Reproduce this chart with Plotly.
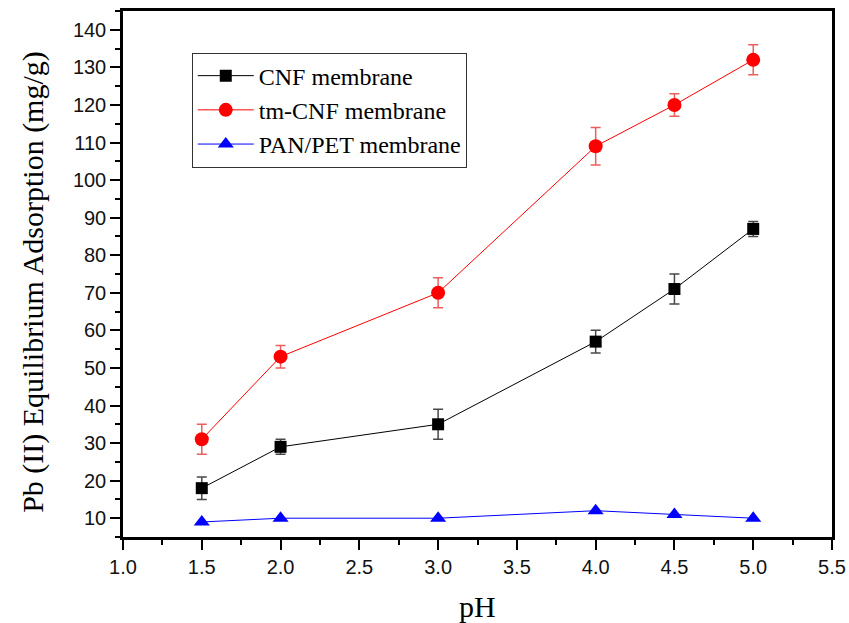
import plotly.graph_objects as go

# pH values of the adsorption runs
ph = [1.5, 2.0, 3.0, 4.0, 4.5, 5.0]

# Equilibrium Pb(II) uptake (mg/g) and standard deviations
cnf = [18, 29, 35, 57, 71, 87]
cnf_err = [3, 2, 4, 3, 4, 2]

tm_cnf = [31, 53, 70, 109, 120, 132]
tm_cnf_err = [4, 3, 4, 5, 3, 4]

pan_pet = [9, 10, 10, 12, 11, 10]

x_ticks = [1.0, 1.5, 2.0, 2.5, 3.0, 3.5, 4.0, 4.5, 5.0, 5.5]
y_ticks = [10, 20, 30, 40, 50, 60, 70, 80, 90, 100, 110, 120, 130, 140]

serif = "Liberation Serif, Times New Roman, serif"
sans = "Liberation Sans, Arial, sans-serif"

fig = go.Figure()

fig.add_trace(go.Scatter(
    x=ph, y=cnf, name="CNF membrane", mode="lines+markers",
    line=dict(color="black", width=1),
    marker=dict(symbol="square", size=12, color="black"),
    error_y=dict(type="data", array=cnf_err, visible=True,
                 color="rgba(40,40,40,0.85)", thickness=1.5, width=5),
))
fig.add_trace(go.Scatter(
    x=ph, y=tm_cnf, name="tm-CNF membrane", mode="lines+markers",
    line=dict(color="red", width=1),
    marker=dict(symbol="circle", size=14, color="red"),
    error_y=dict(type="data", array=tm_cnf_err, visible=True,
                 color="rgba(230,40,40,0.75)", thickness=1.5, width=5),
))
fig.add_trace(go.Scatter(
    x=ph, y=pan_pet, name="PAN/PET membrane", mode="lines+markers",
    line=dict(color="blue", width=1),
    marker=dict(symbol="triangle-up", size=14, color="blue"),
))

axis_common = dict(
    showline=True, linecolor="black", linewidth=2.5, mirror=True,
    ticks="outside", ticklen=10, tickwidth=2, tickcolor="black",
    showgrid=False, zeroline=False, automargin=False,
    tickfont=dict(family=sans, size=20, color="#111"),
)

fig.update_xaxes(
    range=[1.0, 5.5], tickvals=x_ticks,
    ticktext=[f"{v:.1f}" for v in x_ticks],
    minor=dict(ticks="outside", dtick=0.25, ticklen=5, tickwidth=2,
               tickcolor="black", showgrid=False),
    **axis_common,
)
fig.update_yaxes(
    range=[5, 145], tickvals=y_ticks,
    minor=dict(ticks="outside", dtick=5, ticklen=5, tickwidth=2,
               tickcolor="black", showgrid=False),
    **axis_common,
)

fig.add_annotation(
    text="pH", xref="paper", yref="paper", x=0.5, y=-0.133,
    xanchor="center", yanchor="middle", showarrow=False,
    font=dict(family=serif, size=30, color="black"),
)
fig.add_annotation(
    text="Pb (II) Equilibrium Adsorption (mg/g)", xref="paper", yref="paper",
    x=-0.127, y=0.485, textangle=-90, xanchor="center", yanchor="middle",
    showarrow=False, font=dict(family=serif, size=30, color="black"),
)

fig.update_layout(
    width=849, height=623,
    margin=dict(l=123, r=17, t=11, b=86, autoexpand=False),
    paper_bgcolor="white", plot_bgcolor="white",
    showlegend=True,
    legend=dict(
        x=0.097, y=0.921, xanchor="left", yanchor="top",
        bgcolor="white", bordercolor="#333", borderwidth=1,
        font=dict(family=serif, size=24, color="black"),
        itemwidth=56, tracegroupgap=0,
    ),
)

fig.write_html("out.html")
